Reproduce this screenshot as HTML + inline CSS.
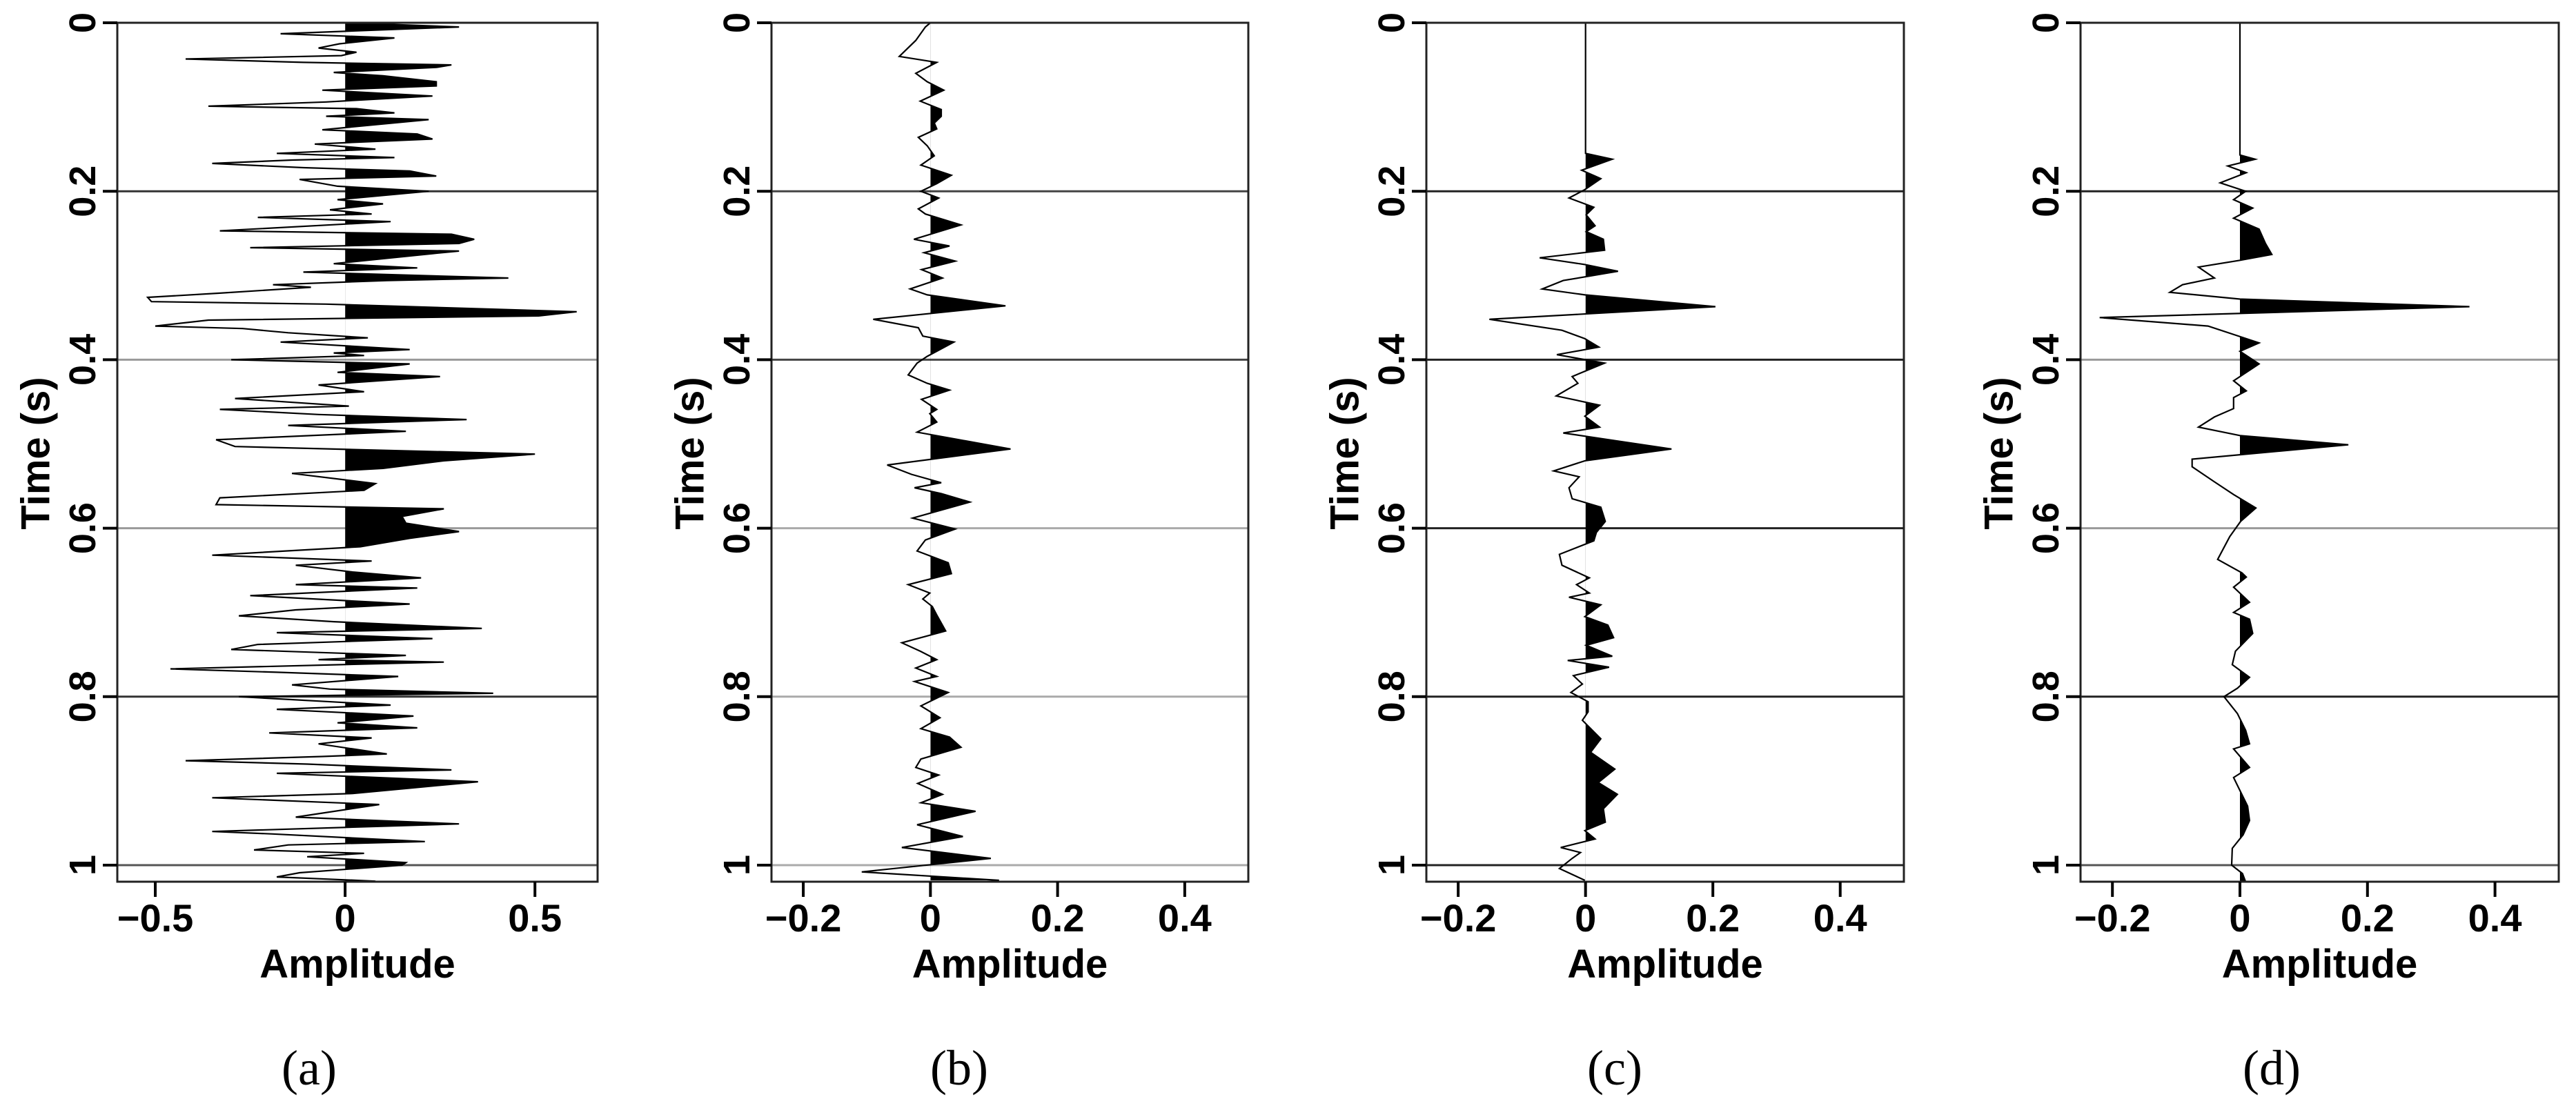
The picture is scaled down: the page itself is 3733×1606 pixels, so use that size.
<!DOCTYPE html>
<html><head><meta charset="utf-8"><style>
html,body{margin:0;padding:0;background:#fff;}
svg{display:block;}
text{font-family:"Liberation Sans",sans-serif;font-weight:bold;fill:#000;}
.cap{font-family:"Liberation Serif",serif;font-weight:normal;}
</style></head><body>
<svg id="fig" width="3733" height="1606" viewBox="0 0 3733 1606"></svg>
<script>
const timeTicks = [0, 0.2, 0.4, 0.6, 0.8, 1];
const timeTickLabels = ["0", "0.2", "0.4", "0.6", "0.8", "1"];
const ampTicksA = [-0.5, 0, 0.5];
const ampTickLabelsA = ["\u22120.5", "0", "0.5"];
const ampTicksB = [-0.2, 0, 0.2, 0.4];
const ampTickLabelsB = ["\u22120.2", "0", "0.2", "0.4"];
const captions = ["(a)", "(b)", "(c)", "(d)"];

const tA = [0,.005,.013,.018,.025,.03,.035,.039,.043,.047,.05,.053,.059,.063,.07,.075,.08,.087,.094,.099,.102,.107,.111,.115,.127,.132,.138,.144,.15,.155,.16,.163,.167,.172,.176,.182,.186,.194,.2,.21,.215,.222,.227,.231,.236,.247,.251,.257,.262,.267,.271,.274,.286,.291,.296,.303,.306,.311,.314,.321,.326,.331,.334,.343,.348,.353,.36,.363,.368,.374,.379,.388,.392,.395,.4,.405,.415,.42,.43,.438,.446,.455,.459,.465,.471,.478,.485,.495,.503,.512,.52,.529,.535,.547,.555,.564,.572,.577,.586,.594,.604,.612,.622,.632,.639,.644,.652,.659,.667,.671,.68,.69,.697,.704,.711,.719,.724,.731,.738,.744,.751,.756,.759,.767,.771,.776,.786,.791,.796,.8,.81,.815,.823,.831,.837,.843,.849,.856,.868,.871,.876,.88,.887,.891,.901,.915,.92,.928,.943,.951,.96,.963,.972,.976,.982,.986,.99,.997,1.0,1.009,1.014,1.019];
const vA = [0,.30,-.17,.13,-.015,-.07,.03,-.01,-.42,-.11,.28,.24,-.03,.10,.24,.24,-.06,.23,-.05,-.36,.03,.13,-.05,.22,-.06,.19,.23,-.08,.08,-.18,.13,-.14,-.35,-.11,.17,.24,-.12,-.02,.22,-.02,.10,-.04,.07,-.23,.12,-.33,.28,.34,.30,-.25,.30,.23,-.03,.19,-.11,.43,.11,-.19,-.09,-.33,-.52,-.51,-.05,.61,.51,-.36,-.50,-.27,-.15,.06,-.17,.17,-.03,.05,-.30,.17,-.02,.25,-.07,.05,-.29,.01,-.33,-.07,.32,-.15,.16,-.34,-.29,.50,.26,.10,-.14,.08,.05,-.33,-.34,.26,.15,.16,.30,.17,.04,-.35,.07,-.13,.02,.20,-.13,.19,-.25,.17,-.13,-.28,-.03,.36,-.18,.23,-.23,-.30,.16,-.07,.26,-.46,-.18,.14,-.14,-.04,.39,-.28,.12,-.18,.18,-.02,.19,-.20,.07,-.07,.11,-.06,-.42,-.10,.28,-.18,.35,.02,-.35,.09,-.13,.30,-.35,-.19,.21,-.15,-.24,.05,-.10,.16,.15,-.12,-.18,.08,-.04];

const tB = [0,.005,.021,.04,.047,.06,.07,.08,.093,.103,.111,.119,.126,.136,.146,.158,.169,.181,.191,.2,.208,.221,.227,.24,.257,.265,.273,.283,.293,.303,.316,.323,.336,.352,.362,.372,.379,.396,.404,.418,.428,.436,.447,.459,.464,.474,.486,.506,.525,.536,.546,.552,.559,.569,.588,.601,.614,.627,.641,.654,.667,.677,.684,.693,.703,.722,.736,.746,.756,.766,.776,.782,.795,.811,.825,.838,.848,.86,.874,.884,.893,.903,.916,.926,.936,.952,.966,.979,.992,1.008,1.018];
const vB = [0,-.008,-.023,-.049,.01,-.023,-.005,.021,-.016,.017,.017,.006,.01,-.019,-.005,.006,-.015,.033,.01,-.015,.013,-.019,-.008,.048,-.026,.03,-.01,.039,-.014,.019,-.032,-.005,.118,-.09,-.019,-.012,.037,-.005,-.021,-.035,-.005,.03,-.014,.01,-.001,.01,-.021,.126,-.068,-.03,.017,-.025,.017,.062,-.028,.039,-.008,-.021,.028,.033,-.035,-.001,-.012,.003,.01,.024,-.045,-.016,.01,-.023,.01,-.025,.028,-.015,.015,-.015,.03,.048,-.015,-.023,.013,-.02,.019,-.015,.071,-.021,.051,-.045,.095,-.108,.108];

const tC = [0,.155,.162,.175,.185,.198,.208,.219,.228,.241,.248,.257,.27,.279,.287,.295,.306,.316,.323,.337,.352,.365,.375,.385,.394,.404,.42,.428,.443,.454,.467,.48,.487,.506,.52,.532,.539,.552,.565,.575,.592,.605,.615,.631,.644,.659,.667,.677,.682,.691,.705,.715,.73,.739,.752,.757,.765,.775,.785,.795,.806,.818,.828,.85,.866,.886,.902,.916,.933,.949,.959,.969,.979,.985,.992,1.004,1.018];
const vC = [0,0,.042,-.006,.024,-.001,-.026,.013,.001,.015,.001,.028,.03,-.072,-.001,.051,-.035,-.068,-.001,.204,-.151,-.037,-.001,.021,-.045,.03,-.021,-.012,-.046,.022,-.001,.022,-.035,.135,-.001,-.05,-.01,-.026,-.021,.024,.031,.017,.013,-.041,-.037,.006,-.014,.006,-.026,.024,-.001,.035,.044,.001,.042,-.028,.037,-.019,-.005,-.023,.004,.004,-.005,.024,.008,.046,.02,.05,.028,.031,-.001,.015,-.039,-.008,-.021,-.041,-.001];

const tD = [0,.157,.162,.17,.178,.19,.2,.21,.22,.232,.245,.262,.275,.282,.29,.303,.311,.32,.328,.337,.35,.36,.38,.39,.405,.425,.437,.445,.458,.468,.48,.49,.501,.518,.527,.545,.56,.576,.592,.61,.637,.653,.658,.67,.688,.7,.708,.725,.746,.762,.777,.79,.8,.82,.84,.856,.862,.884,.896,.93,.947,.964,.98,1.0,1.01,1.02];
const vD = [0,0,.024,-.019,.01,-.031,.009,-.01,.02,-.01,.03,.04,.05,0,-.065,-.04,-.09,-.11,0,.36,-.22,-.05,.03,0,.03,-.01,.01,-.01,-.01,-.04,-.065,0,.17,-.075,-.075,-.04,-.01,.025,.001,-.016,-.035,.003,.01,-.01,.015,-.01,.015,.02,-.007,-.012,.015,-.004,-.025,-.004,.009,.015,-.01,.015,-.01,.012,.015,.005,-.012,-.013,.004,.009];

const NS = "http://www.w3.org/2000/svg";
const svg = document.getElementById("fig");
function mk(tag, attrs, parent) {
  const e = document.createElementNS(NS, tag);
  for (const k in attrs) e.setAttribute(k, attrs[k]);
  (parent || svg).appendChild(e);
  return e;
}
const T0 = 33, T1 = 1254, BOTTOM = 1278;
function yScale(t) { return T0 + (T1 - T0) * t; }

const panels = [
  {id:"a", left:170, right:866, dmin:-0.6, dmax:0.665, ticks:ampTicksA, labels:ampTickLabelsA, t:tA, v:vA, capX:448, grid:["#333","#999","#999","#333","#555"]},
  {id:"b", left:1118, right:1809, dmin:-0.25, dmax:0.5, ticks:ampTicksB, labels:ampTickLabelsB, t:tB, v:vB, capX:1390, grid:["#444","#444","#aaa","#aaa","#aaa"]},
  {id:"c", left:2067, right:2759, dmin:-0.25, dmax:0.5, ticks:ampTicksB, labels:ampTickLabelsB, t:tC, v:vC, capX:2340, grid:["#222","#222","#222","#222","#222"]},
  {id:"d", left:3015, right:3708, dmin:-0.25, dmax:0.5, ticks:ampTicksB, labels:ampTickLabelsB, t:tD, v:vD, capX:3292, grid:["#222","#999","#999","#222","#555"]}
];

panels.forEach((p, pi) => {
  const xs = v => p.left + (v - p.dmin) / (p.dmax - p.dmin) * (p.right - p.left);
  const g = mk("g", {});
  
  

  timeTicks.slice(1).forEach((tt, i) => {
    const l = mk("line", {x1:p.left, x2:p.right, y1:yScale(tt), y2:yScale(tt), stroke:p.grid[i], "stroke-width":3}, g);
    
    
  });

  const cp = mk("clipPath", {id:"clip" + p.id}, g);
  mk("rect", {x:xs(0), y:T0, width:p.right - xs(0), height:BOTTOM - T0}, cp);
  const cpf = mk("clipPath", {id:"frame" + p.id}, g);
  mk("rect", {x:p.left, y:T0, width:p.right - p.left, height:BOTTOM - T0}, cpf);

  const n = Math.min(p.t.length, p.v.length);
  const pts = [];
  for (let i = 0; i < n; i++) pts.push(xs(p.v[i]).toFixed(1) + "," + yScale(p.t[i]).toFixed(1));
  const poly = pts.concat([xs(0) + "," + yScale(p.t[n-1]), xs(0) + "," + yScale(p.t[0])]).join(" ");
  const fill = mk("polygon", {points:poly, fill:"#000", "clip-path":"url(#clip" + p.id + ")"}, g);
  
  
  const line = mk("polyline", {points:pts.join(" "), fill:"none", stroke:"#000", "stroke-width":2.2, "clip-path":"url(#frame" + p.id + ")"}, g);
  
  

  const fr = mk("rect", {x:p.left, y:T0, width:p.right - p.left, height:BOTTOM - T0, fill:"none", stroke:"#222", "stroke-width":3}, g);
  
  

  timeTicks.forEach((tt, i) => {
    const y = yScale(tt);
    mk("line", {x1:p.left - 21, x2:p.left, y1:y, y2:y, stroke:"#000", "stroke-width":4}, g);
    const tx = p.left - 50;
    const lab = mk("text", {x:tx, y:y, "font-size":54, "text-anchor":"middle", "dominant-baseline":"central", transform:"rotate(-90 " + tx + " " + y + ")"}, g);
    lab.textContent = timeTickLabels[i];
    
    
  });

  p.ticks.forEach((v, i) => {
    const x = xs(v);
    mk("line", {x1:x, x2:x, y1:BOTTOM, y2:BOTTOM + 22, stroke:"#000", "stroke-width":4}, g);
    const lab = mk("text", {x:x, y:1350, "font-size":56, "text-anchor":"middle"}, g);
    lab.textContent = p.labels[i];
    
    
  });

  const cx = (p.left + p.right) / 2;
  const xt = mk("text", {x:cx, y:1417, "font-size":58, "text-anchor":"middle"}, g);
  xt.textContent = "Amplitude";
  
  

  const yx = p.left - 118, yy = 657;
  const yt = mk("text", {x:yx, y:yy, "font-size":58, "text-anchor":"middle", "dominant-baseline":"central", transform:"rotate(-90 " + yx + " " + yy + ")"}, g);
  yt.textContent = "Time (s)";
  
  

  const cap = mk("text", {x:p.capX, y:1572, "font-size":72, "text-anchor":"middle", "class":"cap"}, g);
  cap.textContent = captions[pi];
  
  
});
</script>
</body></html>
